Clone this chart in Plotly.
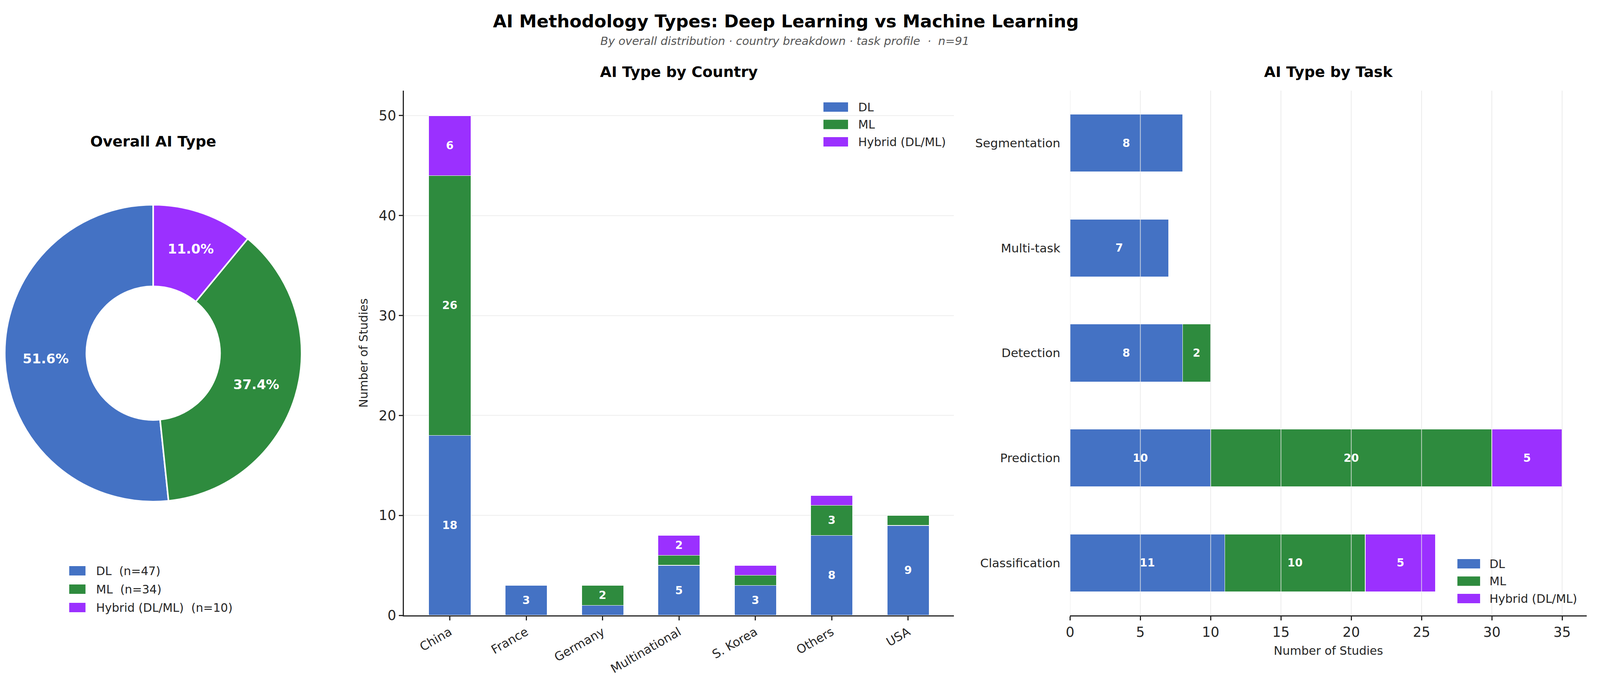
import plotly.graph_objects as go

# overall split
ai_types = ["DL", "ML", "Hybrid (DL/ML)"]
overall_counts = [47, 34, 10]

# by country
countries = ["China", "France", "Germany", "Multinational", "S. Korea", "Others", "USA"]
country_dl = [18, 3, 1, 5, 3, 8, 9]
country_ml = [26, 0, 2, 1, 1, 3, 1]
country_hybrid = [6, 0, 0, 2, 1, 1, 0]

# by task (listed bottom to top)
tasks = ["Classification", "Prediction", "Detection", "Multi-task", "Segmentation"]
task_dl = [11, 10, 8, 7, 8]
task_ml = [10, 20, 2, 0, 0]
task_hybrid = [5, 5, 0, 0, 0]

country_ticks = [0, 10, 20, 30, 40, 50]
task_ticks = [0, 5, 10, 15, 20, 25, 30, 35]

colors = ["#4472C4", "#2E8B3E", "#9B30FF"]
FONT = "DejaVu Sans"
INK = "#262626"

# layout was measured on a 4230x1761 image; the page is 4096 wide with an 8px body margin
SX = 4096 / 4230
OFF = 8
FW, FH = 4096 - 2 * OFF, 1761 - 2 * OFF


def px(x):
    return (x * SX - OFF) / FW


def py(y):
    return 1 - (y - OFF) / FH


def bar_labels(vals):
    # small segments stay unlabelled
    return [str(v) if v >= 2 else "" for v in vals]


fig = go.Figure()

# Donut: first slice starts at 12 o'clock and runs counterclockwise
cx, cy, r = 405 * SX - OFF, 904 - OFF, 380
fig.add_trace(go.Pie(
    labels=ai_types,
    values=overall_counts,
    hole=0.45,
    sort=False,
    direction="counterclockwise",
    rotation=360 * (1 - overall_counts[0] / sum(overall_counts)),
    marker=dict(colors=colors, line=dict(color="white", width=4)),
    texttemplate="%{percent:.1%}",
    textposition="inside",
    insidetextorientation="horizontal",
    textfont=dict(family=FONT, size=34, color="white", weight="bold"),
    domain=dict(x=[(cx - r) / FW, (cx + r) / FW], y=[1 - (cy + r) / FH, 1 - (cy - r) / FH]),
    showlegend=False,
    hoverinfo="label+value+percent",
))

# Country stacked bars
for name, vals, col in zip(ai_types, [country_dl, country_ml, country_hybrid], colors):
    fig.add_trace(go.Bar(
        x=countries, y=vals, name=name, width=0.55,
        marker=dict(color=col, line=dict(color="white", width=1.5)),
        text=bar_labels(vals), textposition="inside", insidetextanchor="middle",
        textangle=0, textfont=dict(family=FONT, size=28, color="white", weight="bold"),
        xaxis="x", yaxis="y", showlegend=False,
    ))

# Task stacked horizontal bars
for name, vals, col in zip(ai_types, [task_dl, task_ml, task_hybrid], colors):
    fig.add_trace(go.Bar(
        x=vals, y=tasks, name=name, orientation="h", width=0.55,
        marker=dict(color=col, line=dict(color="white", width=1.5)),
        text=bar_labels(vals), textposition="inside", insidetextanchor="middle",
        textangle=0, textfont=dict(family=FONT, size=28, color="white", weight="bold"),
        xaxis="x2", yaxis="y2", showlegend=False,
    ))

# task grid sits on top of the bars
for t in task_ticks:
    fig.add_shape(type="line", xref="x2", yref="y2 domain", x0=t, x1=t, y0=0, y1=1,
                  line=dict(color="rgba(230,230,230,0.8)", width=2), layer="above")


# matplotlib-style legends: wide colour patches with the label beside them
def add_legend(labels, swatch_left, swatch_w, text_left, top_row, step):
    for i, (label, col) in enumerate(zip(labels, colors)):
        yc = top_row + i * step
        fig.add_shape(type="rect", xref="paper", yref="paper",
                      x0=px(swatch_left), x1=px(swatch_left + swatch_w),
                      y0=py(yc + 12), y1=py(yc - 12),
                      fillcolor=col, line=dict(width=0), layer="above")
        fig.add_annotation(text=label, x=px(text_left), y=py(yc), xref="paper", yref="paper",
                           showarrow=False, xanchor="left", yanchor="middle",
                           font=dict(family=FONT, size=30, color=INK))


add_legend(ai_types, 2177, 65, 2267, 274, 44.5)
add_legend(ai_types, 3853, 60, 3936, 1443, 44.5)
add_legend([f"{t}\u00a0 (n={c})" for t, c in zip(ai_types, overall_counts)], 183, 43, 252, 1461, 47)

fig.update_layout(
    width=FW, height=FH,
    margin=dict(l=0, r=0, t=0, b=0),
    paper_bgcolor="white", plot_bgcolor="white",
    barmode="stack",
    font=dict(family=FONT, color=INK),
    uniformtext=dict(minsize=28, mode="show"),
    xaxis=dict(
        domain=[px(1068), px(2522)], anchor="y", range=[-0.6, 6.6],
        categoryorder="array", categoryarray=countries,
        showline=True, linecolor=INK, linewidth=3,
        ticks="outside", ticklen=10, tickwidth=2.5, tickcolor=INK,
        tickangle=-30, tickfont=dict(size=31), showgrid=False, automargin=False,
    ),
    yaxis=dict(
        domain=[py(1575), py(232)], anchor="x", range=[0, 52.5],
        tickvals=country_ticks,
        showline=True, linecolor=INK, linewidth=3,
        ticks="outside", ticklen=10, tickwidth=2.5, tickcolor=INK,
        tickfont=dict(size=35), showgrid=True, gridcolor="#eeeeee", gridwidth=1.5,
        zeroline=False, automargin=False,
        title=dict(text="Number of Studies", font=dict(size=30), standoff=20),
    ),
    xaxis2=dict(
        domain=[px(2829), px(4195)], anchor="y2", range=[0, 36.75],
        tickvals=task_ticks,
        showline=True, linecolor=INK, linewidth=3,
        ticks="outside", ticklen=10, tickwidth=2.5, tickcolor=INK,
        tickfont=dict(size=35), showgrid=False, zeroline=False, automargin=False,
        title=dict(text="Number of Studies", font=dict(size=30), standoff=18),
    ),
    yaxis2=dict(
        domain=[py(1575), py(232)], anchor="x2", range=[-0.5, 4.5],
        categoryorder="array", categoryarray=tasks,
        showline=False, ticks="", ticklabelstandoff=24,
        tickfont=dict(size=31), showgrid=False, zeroline=False, automargin=False,
    ),
)

annotations = [
    ("<b>AI Methodology Types: Deep Learning vs Machine Learning</b>", 2078, 54, 45, "black"),
    ("<i>By overall distribution · country breakdown · task profile \u00a0·\u00a0 n=91</i>", 2075, 105, 29, "#555555"),
    ("<b>Overall AI Type</b>", 405, 362, 38, "black"),
    ("<b>AI Type by Country</b>", 1795, 184, 38, "black"),
    ("<b>AI Type by Task</b>", 3512, 184, 38, "black"),
]
for text, x, y, size, color in annotations:
    fig.add_annotation(text=text, x=px(x), y=py(y), xref="paper", yref="paper",
                       showarrow=False, xanchor="center", yanchor="middle",
                       font=dict(family=FONT, size=size, color=color))

fig.write_html("out.html")
